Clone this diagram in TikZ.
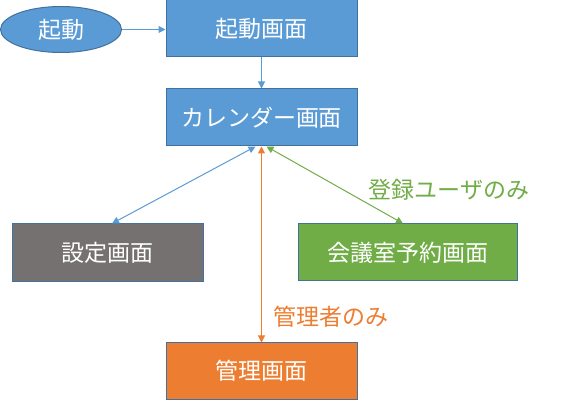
\documentclass[tikz,border=0pt]{standalone}
\usepackage{fontspec}
\setmainfont{Noto Sans CJK JP}
\usetikzlibrary{shapes.geometric,arrows.meta}
\definecolor{oblue}{HTML}{5B9BD5}
\definecolor{oedge}{HTML}{41719C}
\definecolor{ogray}{HTML}{767171}
\definecolor{ogreen}{HTML}{70AD47}
\definecolor{oorange}{HTML}{ED7D31}
\begin{document}
\begin{tikzpicture}[x=1pt,y=-1pt,
  box/.style={draw=oedge,line width=1pt,text=white,font=\fontsize{23}{26}\selectfont,inner sep=0pt,anchor=center},
  ell/.style={ellipse,draw=oedge,fill=oblue,line width=1pt,text=white,font=\fontsize{23}{26}\selectfont,inner sep=0pt,minimum width=121pt,minimum height=46pt},
  conn/.style={line width=1pt,{Triangle[length=7pt,width=7pt]}-{Triangle[length=7pt,width=7pt]}},
  conn1/.style={line width=1pt,-{Triangle[length=7pt,width=7pt]}},
  lab/.style={font=\fontsize{23}{26}\selectfont,inner sep=0pt}]
\useasboundingbox (0,0) rectangle (582,401);
\node[ell] (start) at (61,29.5) {起動};
\node[box,fill=oblue,minimum width=191pt,minimum height=57pt] (boot) at (261.5,28.5) {起動画面};
\node[box,fill=oblue,minimum width=191pt,minimum height=57pt] (cal) at (261.5,117.5) {カレンダー画面};
\node[box,fill=ogray,minimum width=191pt,minimum height=58pt] (set) at (107.5,253) {設定画面};
\node[box,fill=ogreen,minimum width=219pt,minimum height=57pt] (room) at (407.5,252.5) {会議室予約画面};
\node[box,fill=oorange,minimum width=191pt,minimum height=56pt] (admin) at (261.5,371) {管理画面};
\draw[conn1,draw=oblue] (start.east) -- (start.east -| boot.west);
\draw[conn1,draw=oblue] (boot.south) -- (cal.north);
\draw[conn,draw=oblue] ([xshift=-6pt]cal.south) -- ([xshift=4.5pt]set.north);
\draw[conn,draw=ogreen] ([xshift=5pt]cal.south) -- ([xshift=-4.5pt]room.north);
\draw[conn,draw=oorange] (cal.south) -- (admin.north);
\node[lab,text=ogreen] (lreg) at (449,190) {登録ユーザのみ};
\node[lab,text=oorange] (ladm) at (331,317) {管理者のみ};
\end{tikzpicture}
\end{document}
